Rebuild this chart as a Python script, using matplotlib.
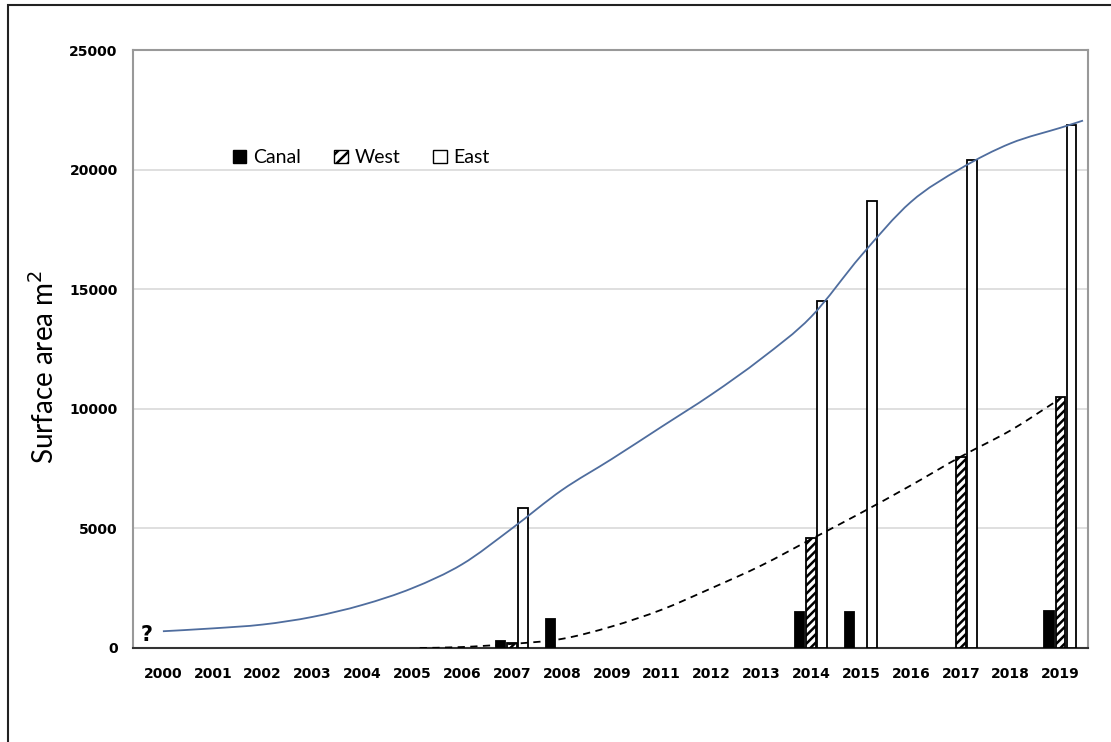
import numpy as np
import matplotlib.pyplot as plt
from matplotlib.patches import Rectangle, Patch, PathPatch
from matplotlib.path import Path

years = ['2000', '2001', '2002', '2003', '2004', '2005', '2006', '2007', '2008', '2009',
         '2011', '2012', '2013', '2014', '2015', '2016', '2017', '2018', '2019']

canal = [0, 0, 0, 0, 0, 0, 0, 300, 1200, 0, 0, 0, 0, 1500, 1500, 0, 0, 0, 1550]
west = [0, 0, 0, 0, 0, 0, 0, 200, 0, 0, 0, 0, 0, 4600, 0, 0, 8000, 0, 10500]
east = [0, 0, 0, 0, 0, 0, 0, 5850, 0, 0, 0, 0, 0, 14500, 18700, 0, 20400, 0, 21850]

# trend lines, read at each category position
total_x = [0, 1, 2, 3, 4, 5, 6, 7, 8, 9, 10, 11, 12, 13, 14, 15, 16, 17, 18, 18.45]
total_y = [700, 820, 980, 1300, 1800, 2500, 3500, 5000, 6600, 7900, 9250, 10600,
           12100, 13850, 16400, 18650, 20050, 21100, 21750, 22050]
west_x = [5.15, 6, 7, 8, 9, 10, 11, 12, 13, 14, 15, 16, 17, 17.9]
west_y = [0, 40, 170, 380, 900, 1600, 2500, 3450, 4550, 5650, 6800, 8000, 9100, 10300]

plt.rcParams['font.family'] = ['DejaVu Sans']
plt.rcParams['hatch.linewidth'] = 1.8


def smooth_path(xs, ys):
    # Excel-style smoothed line: Catmull-Rom segments drawn as cubic Beziers
    p = np.column_stack([xs, ys]).astype(float)
    p = np.vstack([p[0], p, p[-1]])
    verts = [p[1]]
    codes = [Path.MOVETO]
    for i in range(1, len(p) - 2):
        c1 = p[i] + (p[i + 1] - p[i - 1]) / 6
        c2 = p[i + 1] - (p[i + 2] - p[i]) / 6
        verts += [c1, c2, p[i + 1]]
        codes += [Path.CURVE4] * 3
    return Path(verts, codes)


fig = plt.figure(figsize=(11.11, 7.42), dpi=100)
ax = fig.add_axes([0.1197, 0.1267, 0.8596, 0.8059])

x = np.arange(len(years))
w = 0.19


def draw(vals, off, **kw):
    v = np.array(vals, dtype=float)
    m = v > 0
    ax.bar(x[m] + off, v[m], width=w, edgecolor='black', linewidth=1.3, zorder=3, **kw)


draw(canal, -0.23, color='black')
draw(west, 0.0, color='white', hatch='////')
draw(east, 0.22, color='white')

ax.add_patch(PathPatch(smooth_path(total_x, total_y), fill=False,
                       edgecolor='#4f6d9e', lw=1.3, zorder=4))
ax.add_patch(PathPatch(smooth_path(west_x, west_y), fill=False,
                       edgecolor='black', lw=1.3, ls=(0, (4, 3)), zorder=4))

ax.set_xlim(-0.6, 18.55)
ax.set_ylim(0, 25000)
ax.set_yticks(range(0, 25001, 5000))
ax.set_xticks(x)
ax.set_xticklabels(years, fontweight='bold', fontsize=10)
for t in ax.get_yticklabels():
    t.set_fontweight('bold')
    t.set_fontsize(10)
ax.tick_params(axis='both', length=0)
ax.tick_params(axis='x', pad=14)
ax.tick_params(axis='y', pad=11)
ax.yaxis.grid(True, color='#d9d9d9', lw=1.2)
ax.set_axisbelow(True)
for s in ['top', 'left', 'right']:
    ax.spines[s].set_color('#999999')
    ax.spines[s].set_linewidth(1.5)
ax.spines['bottom'].set_color('#333333')
ax.spines['bottom'].set_linewidth(1.5)

ax.set_ylabel('Surface area m$^2$', fontsize=20, family='Lato')
ax.yaxis.set_label_coords(-0.077, 0.47)

ax.text(0.008, 0.012, '?', transform=ax.transAxes, fontsize=15, fontweight='bold')

handles = [Patch(facecolor='black', edgecolor='black', label='Canal'),
           Patch(facecolor='white', edgecolor='black', hatch='///', label='West'),
           Patch(facecolor='white', edgecolor='black', label='East')]
ax.legend(handles=handles, loc='center left', bbox_to_anchor=(0.086, 0.82), ncol=3,
          frameon=False, prop={'family': 'Lato', 'size': 14},
          handlelength=0.7, handleheight=0.7, handletextpad=0.35, columnspacing=1.7)

fig.add_artist(Rectangle((8 / 1111, -0.1), 1.2, 1.1 - 5 / 742, transform=fig.transFigure,
                         fill=False, edgecolor='#222222', lw=1.5))

fig.savefig('out.png', dpi=100)
